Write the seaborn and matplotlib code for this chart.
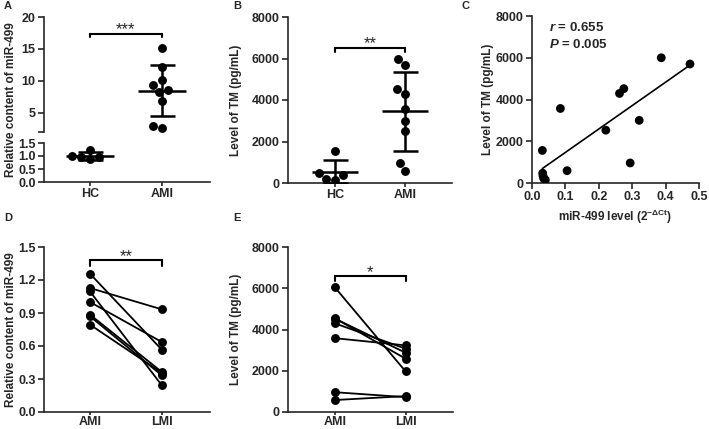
import numpy as np
import pandas as pd
import matplotlib
matplotlib.use("Agg")
import matplotlib.pyplot as plt
import seaborn as sns

sns.set_style("ticks")
plt.rcParams["font.family"] = ["Liberation Sans", "DejaVu Sans"]
plt.rcParams["mathtext.fontset"] = "custom"
plt.rcParams["mathtext.rm"] = "Liberation Sans:bold"
plt.rcParams["mathtext.it"] = "Liberation Sans:italic:bold"
plt.rcParams["mathtext.bf"] = "Liberation Sans:bold"

# ---------------- data ----------------
groups_ab = ["HC", "AMI"]
a_hc = [1.25, 0.95, 0.88, 0.95, 1.00]
a_ami = [15.2, 12.2, 10.2, 9.3, 8.5, 8.2, 6.9, 3.0, 2.6]

b_hc = [1550, 390, 500, 180, 150]
b_ami = [6000, 5700, 4520, 4290, 3570, 3000, 2530, 960, 590]

c_mir = [0.387, 0.473, 0.275, 0.262, 0.085, 0.321, 0.221, 0.294, 0.105,
         0.031, 0.032, 0.033, 0.035, 0.040]
c_tm = [6000, 5700, 4520, 4290, 3570, 3000, 2530, 960, 590,
        1560, 470, 350, 220, 150]
c_stats = ["r = 0.655", "P = 0.005"]

groups_de = ["AMI", "LMI"]
d_ami = [1.257, 1.127, 1.096, 1.000, 0.885, 0.870, 0.794]
d_lmi = [0.566, 0.933, 0.242, 0.636, 0.364, 0.333, 0.355]

e_ami = [6050, 4550, 4530, 4300, 3580, 960, 580]
e_lmi = [1970, 2585, 2875, 3070, 3230, 720, 770]

sig_a, sig_b, sig_d, sig_e = "***", "**", "**", "*"

# ---------------- figure ----------------
W, H = 709, 429
fig = plt.figure(figsize=(W / 100, H / 100), dpi=100)


def px_axes(x0, y0, x1, y1):
    return fig.add_axes([x0 / W, 1 - y1 / H, (x1 - x0) / W, (y1 - y0) / H])


TICKFONT = dict(fontsize=9, fontweight="bold")
LABELFONT = dict(fontsize=8.5, fontweight="bold")
LW = 1.2


def style(ax, bottom=True, xlen=3, xpad=1.5):
    sns.despine(ax=ax, bottom=not bottom)
    for s in ("left", "bottom"):
        ax.spines[s].set_linewidth(LW)
    ax.tick_params(axis="y", width=LW, length=4, pad=2, labelsize=9)
    ax.tick_params(axis="x", width=LW, length=xlen, pad=xpad, labelsize=9)
    for lab in ax.get_xticklabels() + ax.get_yticklabels():
        lab.set_fontweight("bold")


def mean_sd(ax, values_list):
    for i, vals in enumerate(values_list):
        m = np.mean(vals)
        sd = np.std(vals, ddof=1)
        ax.hlines(m, i - 0.33, i + 0.33, color="black", lw=1.8, zorder=4)
        ax.errorbar(i, m, yerr=sd, fmt="none", ecolor="black", elinewidth=1.8,
                    capsize=9, capthick=1.8, zorder=4)


def bracket(ax, y, drop, text):
    ax.plot([0, 0, 1, 1], [y - drop, y, y, y - drop], color="black", lw=1.5,
            clip_on=False, solid_joinstyle="miter")
    ax.annotate(text, xy=(0.5, y), xytext=(0, -0.5), textcoords="offset points",
                ha="center", va="baseline", fontsize=12, annotation_clip=False)


# ---------- Panel A (broken axis) ----------
df_a = pd.DataFrame({"group": ["HC"] * len(a_hc) + ["AMI"] * len(a_ami),
                     "value": a_hc + a_ami})
axA_up = px_axes(44, 17, 210, 132)
axA_lo = px_axes(44, 143, 210, 182)
axA_up.set_ylim(2, 20)
axA_lo.set_ylim(0, 1.5)
for ax in (axA_up, axA_lo):
    ax.set_xlim(-0.64, 1.67)
    sns.swarmplot(data=df_a, x="group", y="value", order=groups_ab, color="black",
                  size=6.4, ax=ax, zorder=3)
    mean_sd(ax, [a_hc, a_ami])
    ax.set_xlim(-0.64, 1.67)
    ax.set_xlabel("")
    ax.set_ylabel("")
axA_up.set_ylim(2, 20)
axA_lo.set_ylim(0, 1.5)
axA_up.set_yticks([2, 5, 10, 15, 20])
axA_up.set_yticklabels(["", "5", "10", "15", "20"])
axA_up.set_xticks([])
axA_lo.set_yticks([0, 0.5, 1.0, 1.5])
axA_lo.set_yticklabels(["0.0", "0.5", "1.0", "1.5"])
style(axA_up, bottom=False)
style(axA_lo)
axA_lo.set_xticks([0, 1])
axA_lo.set_xticklabels(groups_ab, **TICKFONT)
axA_up.set_ylabel("Relative content of miR-499", **LABELFONT)
axA_up.yaxis.set_label_coords(-0.16, 0.28)
bracket(axA_up, 17.35, 0.55, sig_a)

# ---------- Panel B ----------
df_b = pd.DataFrame({"group": ["HC"] * len(b_hc) + ["AMI"] * len(b_ami),
                     "value": b_hc + b_ami})
axB = px_axes(288, 17, 452, 183)
axB.set_ylim(0, 8000)
axB.set_xlim(-0.67, 1.67)
sns.swarmplot(data=df_b, x="group", y="value", order=groups_ab, color="black",
              size=6.4, ax=axB, zorder=3)
mean_sd(axB, [b_hc, b_ami])
axB.set_xlim(-0.67, 1.67)
axB.set_ylim(0, 8000)
axB.set_yticks([0, 2000, 4000, 6000, 8000])
axB.set_xlabel("")
axB.set_ylabel("Level of TM (pg/mL)", **LABELFONT)
axB.yaxis.set_label_coords(-0.28, 0.5)
style(axB)
bracket(axB, 6530, 220, sig_b)

# ---------- Panel C ----------
axC = px_axes(532, 16, 699, 183)
sns.regplot(x=c_mir, y=c_tm, ci=None, color="black", ax=axC,
            scatter_kws=dict(s=40, edgecolor="none", alpha=1, zorder=3),
            line_kws=dict(lw=1.2))
axC.set_xlim(0, 0.5)
axC.set_ylim(0, 8000)
axC.set_xticks([0, 0.1, 0.2, 0.3, 0.4, 0.5])
axC.set_xticklabels(["0.0", "0.1", "0.2", "0.3", "0.4", "0.5"])
axC.set_yticks([0, 2000, 4000, 6000, 8000])
axC.set_ylabel("Level of TM (pg/mL)", **LABELFONT)
axC.yaxis.set_label_coords(-0.225, 0.5)
axC.set_xlabel(r"miR-499 level (2$^{-\mathrm{\Delta Ct}}$)", labelpad=3, **LABELFONT)
style(axC, xlen=4, xpad=2)
axC.text(0.10, 0.93, r"$r$" + c_stats[0][1:], transform=axC.transAxes,
         fontsize=9.5, fontweight="bold", va="center")
axC.text(0.10, 0.83, r"$P$" + c_stats[1][1:], transform=axC.transAxes,
         fontsize=9.5, fontweight="bold", va="center")

# ---------- Panel D ----------
def paired_df(a, b):
    n = len(a)
    return pd.DataFrame({"pid": list(range(n)) * 2,
                         "time": [groups_de[0]] * n + [groups_de[1]] * n,
                         "value": list(a) + list(b)})


axD = px_axes(44, 247, 210, 412)
sns.lineplot(data=paired_df(d_ami, d_lmi), x="time", y="value", units="pid",
             estimator=None, color="black", lw=1.3, marker="o", markersize=6.4,
             markeredgewidth=0, ax=axD)
axD.set_xlim(-0.64, 1.67)
axD.set_ylim(0, 1.5)
axD.set_yticks([0, 0.3, 0.6, 0.9, 1.2, 1.5])
axD.set_yticklabels(["0.0", "0.3", "0.6", "0.9", "1.2", "1.5"])
axD.set_xlabel("")
axD.set_ylabel("Relative content of miR-499", **LABELFONT)
axD.yaxis.set_label_coords(-0.16, 0.5)
style(axD, xlen=2, xpad=1)
bracket(axD, 1.378, 0.05, sig_d)

# ---------- Panel E ----------
axE = px_axes(288, 247, 453, 412)
sns.lineplot(data=paired_df(e_ami, e_lmi), x="time", y="value", units="pid",
             estimator=None, color="black", lw=1.3, marker="o", markersize=6.4,
             markeredgewidth=0, ax=axE)
axE.set_xlim(-0.66, 1.67)
axE.set_ylim(0, 8000)
axE.set_yticks([0, 2000, 4000, 6000, 8000])
axE.set_xlabel("")
axE.set_ylabel("Level of TM (pg/mL)", **LABELFONT)
axE.yaxis.set_label_coords(-0.28, 0.5)
style(axE, xlen=2, xpad=1)
bracket(axE, 6575, 200, sig_e)

# panel letters
for letter, (x, y) in zip("ABCDE", [(4, 6), (233, 6), (462, 6), (4, 218), (233, 218)]):
    fig.text(x / W, 1 - y / H, letter, fontsize=8, fontweight="bold", va="center")

fig.savefig("out.png", dpi=100)
